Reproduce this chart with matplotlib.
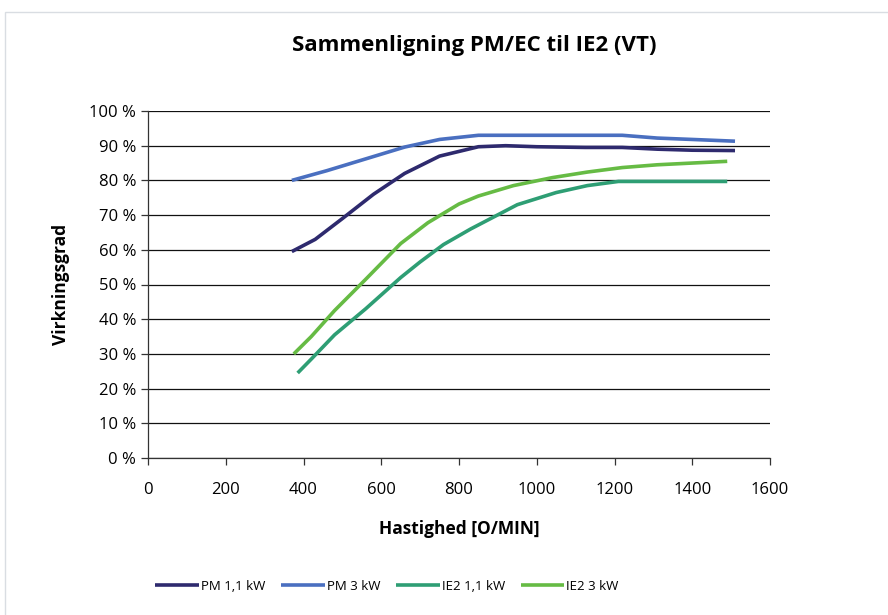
import matplotlib
matplotlib.use("Agg")
import matplotlib.pyplot as plt
from matplotlib.patches import Rectangle
from matplotlib.ticker import FuncFormatter

plt.rcParams["font.family"] = ["Open Sans", "DejaVu Sans"]

# rpm / efficiency (%)
pm11_x = [370, 430, 500, 580, 660, 750, 850, 920, 1000, 1125, 1220, 1310, 1400, 1510]
pm11_y = [59.5, 63, 69, 76, 82, 87, 89.7, 90, 89.7, 89.5, 89.5, 89.0, 88.7, 88.6]

pm3_x = [370, 460, 560, 660, 750, 850, 1000, 1130, 1220, 1310, 1400, 1510]
pm3_y = [80, 82.8, 86.2, 89.6, 91.8, 93, 93, 93, 93, 92.2, 91.8, 91.3]

ie11_x = [385, 420, 480, 560, 650, 700, 760, 830, 950, 1050, 1130, 1210, 1350, 1490]
ie11_y = [24.5, 28.5, 35.5, 43, 52, 56.5, 61.5, 66, 73, 76.5, 78.5, 79.7, 79.7, 79.7]

ie3_x = [375, 420, 480, 560, 650, 720, 800, 850, 940, 1040, 1130, 1220, 1310, 1490]
ie3_y = [30, 35, 42.5, 51.5, 61.8, 67.8, 73.2, 75.5, 78.5, 80.8, 82.4, 83.7, 84.5, 85.5]

series = [
    ("PM 1,1 kW", pm11_x, pm11_y, "#2e2a6e"),
    ("PM 3 kW", pm3_x, pm3_y, "#4a6fc0"),
    ("IE2 1,1 kW", ie11_x, ie11_y, "#2e9e74"),
    ("IE2 3 kW", ie3_x, ie3_y, "#66bb44"),
]

fig = plt.figure(figsize=(8.88, 6.15), dpi=100)
# light frame around the chart area
fig.patches.append(Rectangle((5 / 888, -0.1), 1.0, 1 - 12 / 615 + 0.1,
                             transform=fig.transFigure, fill=False,
                             edgecolor="#d9dde2", lw=1))

ax = fig.add_axes([148 / 888, 1 - 458 / 615, 622 / 888, 347 / 615])

for label, xs, ys, col in series:
    ax.plot(xs, ys, color=col, lw=2.6, label=label, solid_capstyle="butt")

ax.set_xlim(0, 1600)
ax.set_ylim(0, 100)
ax.set_xticks(range(0, 1601, 200))
ax.set_yticks(range(0, 101, 10))
ax.yaxis.set_major_formatter(FuncFormatter(lambda v, _: f"{v:.0f} %"))
ax.grid(axis="y", color="#111111", lw=0.9)
ax.set_axisbelow(True)
for s in ["top", "right"]:
    ax.spines[s].set_visible(False)
for s in ["left", "bottom"]:
    ax.spines[s].set_color("#333333")
    ax.spines[s].set_linewidth(0.9)
ax.tick_params(axis="both", colors="#333333", labelcolor="black", labelsize=12,
               length=5, width=0.9)
ax.tick_params(axis="x", pad=12)

ax.set_xlabel("Hastighed [O/MIN]", fontsize=12.5, fontweight="bold", labelpad=16)
ax.set_ylabel("Virkningsgrad", fontsize=12.5, fontweight="bold", labelpad=14)
fig.text(474 / 888, 1 - 45 / 615, "Sammenligning PM/EC til IE2 (VT)",
         ha="center", va="center", fontsize=16, fontweight="bold")

fig.legend(loc="center", bbox_to_anchor=(387 / 888, 1 - 586 / 615), ncol=4,
           frameon=False, fontsize=9.5, handlelength=3.3, handletextpad=0.15,
           columnspacing=1.2)

fig.savefig("out.png", dpi=100)
